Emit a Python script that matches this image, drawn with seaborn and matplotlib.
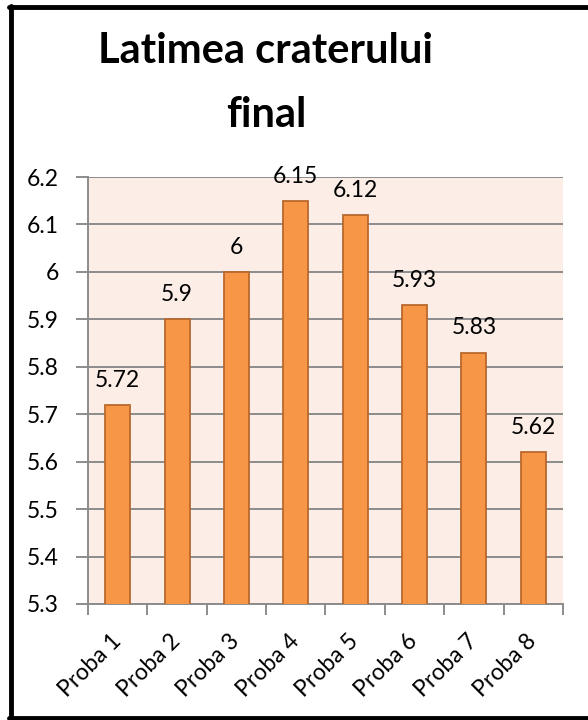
import matplotlib
matplotlib.use("Agg")
import matplotlib.pyplot as plt
from matplotlib.lines import Line2D
from matplotlib.transforms import ScaledTranslation
import seaborn as sns
import pandas as pd
import numpy as np

categories = ["Proba 1", "Proba 2", "Proba 3", "Proba 4", "Proba 5", "Proba 6", "Proba 7", "Proba 8"]
values = [5.72, 5.90, 6.00, 6.15, 6.12, 5.93, 5.83, 5.62]
value_labels = ["5.72", "5.9", "6", "6.15", "6.12", "5.93", "5.83", "5.62"]
y_ticks = [5.3, 5.4, 5.5, 5.6, 5.7, 5.8, 5.9, 6.0, 6.1, 6.2]
y_tick_labels = ["5.3", "5.4", "5.5", "5.6", "5.7", "5.8", "5.9", "6", "6.1", "6.2"]
title_lines = ["Latimea craterului", "final"]

sns.set_style("white")
plt.rcParams["font.family"] = ["Lato", "DejaVu Sans"]
plt.rcParams["text.color"] = "black"
plt.rcParams["xtick.labelcolor"] = "black"
plt.rcParams["ytick.labelcolor"] = "black"

df = pd.DataFrame({"proba": categories, "latime": values})

fig = plt.figure(figsize=(5.88, 7.2), dpi=100)
ax = fig.add_axes([88 / 588, 116 / 720, (563 - 88) / 588, (604 - 177) / 720])

grid_color = "#8C8C8C"
fs = 16.5
ax.set_facecolor("#FCEDE7")

sns.barplot(data=df, x="proba", y="latime", ax=ax, color="#F79646",
            width=0.42, saturation=1, edgecolor="#B8692D", linewidth=1.3,
            zorder=3)

ax.set_ylim(5.3, 6.2)
ax.set_xlim(-0.5, len(categories) - 0.5)
ax.set_yticks(y_ticks)
ax.set_yticklabels(y_tick_labels, fontsize=fs, color="black")
ax.yaxis.grid(True, color=grid_color, linewidth=1.4, zorder=1)
ax.set_axisbelow(True)

ax.set_xticks(range(len(categories)))
ax.set_xticklabels(categories, fontsize=fs, rotation=45, ha="right",
                   va="center", rotation_mode="anchor", color="black")
shift = ScaledTranslation(9 / 100, 0, fig.dpi_scale_trans)
for lab in ax.get_xticklabels():
    lab.set_transform(lab.get_transform() + shift)
ax.set_xticks(np.arange(-0.5, len(categories), 1.0), minor=True)
ax.tick_params(axis="x", which="major", length=0, pad=24)
ax.tick_params(axis="x", which="minor", length=8, width=1.4, color=grid_color,
               direction="out", bottom=True)
ax.tick_params(axis="y", length=9, width=1.4, color=grid_color, pad=12,
               direction="out", left=True)

ax.set_xlabel("")
ax.set_ylabel("")
for side in ["top", "right"]:
    ax.spines[side].set_visible(False)
for side in ["left", "bottom"]:
    ax.spines[side].set_color(grid_color)
    ax.spines[side].set_linewidth(1.4)

for i, (v, lab) in enumerate(zip(values, value_labels)):
    ax.annotate(lab, xy=(i, v), xytext=(0, 13), textcoords="offset points",
                ha="center", va="baseline", fontsize=fs, color="black")

for line, base_y in zip(title_lines, [63, 127]):
    fig.text(266 / 588, 1 - base_y / 720, line, ha="center", va="baseline",
             fontsize=30, fontweight="bold", color="black")

# frame around the chart area
for xs, ys in [([10.5 / 588, 10.5 / 588], [0, 1 - 6 / 720]),
               ([9 / 588, 1], [1 - 6.5 / 720, 1 - 6.5 / 720]),
               ([9 / 588, 1], [2.5 / 720, 2.5 / 720])]:
    fig.add_artist(Line2D(xs, ys, color="black", linewidth=3.5,
                          transform=fig.transFigure))

fig.savefig("out.png", dpi=100, facecolor="white")
